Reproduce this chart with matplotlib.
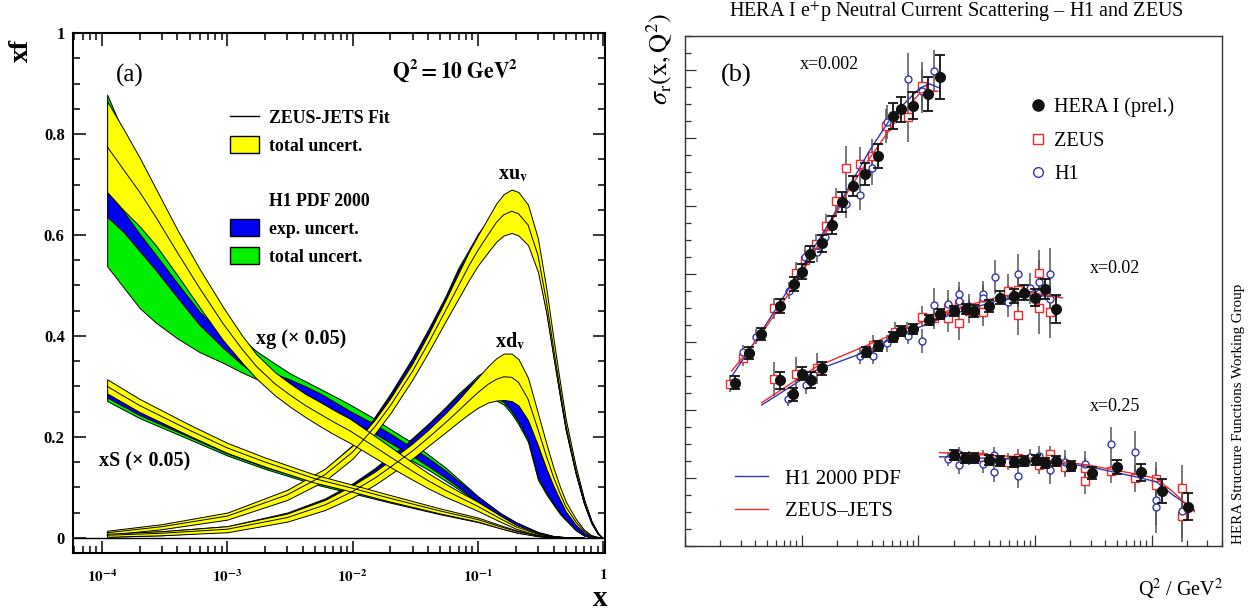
import numpy as np
import matplotlib
matplotlib.use("Agg")
import matplotlib.pyplot as plt
from matplotlib.lines import Line2D
from matplotlib.patches import Patch
from matplotlib.ticker import LogLocator, MultipleLocator, NullFormatter, FixedLocator, FixedFormatter

plt.rcParams["font.family"] = ["Liberation Serif", "DejaVu Serif"]
plt.rcParams["mathtext.fontset"] = "stix"

# ---------------- panel (a): parton densities at Q2 = 10 GeV2 ----------------
xv = [1.1e-4, 3e-4, 1e-3, 3e-3, 6e-3, 1e-2, 1.5e-2, 2e-2, 3e-2, 4e-2, 5.5e-2, 7e-2, 0.085, 0.1, 0.12,
      0.14, 0.16, 0.185, 0.21, 0.25, 0.3, 0.35, 0.4, 0.45, 0.5, 0.6, 0.7, 0.8, 0.9, 0.97]

zeus_uv = [0.010, 0.022, 0.043, 0.085, 0.125, 0.170, 0.220, 0.262, 0.330, 0.385, 0.450, 0.500, 0.540, 0.570, 0.600,
           0.625, 0.640, 0.647, 0.642, 0.620, 0.560, 0.470, 0.375, 0.295, 0.225, 0.135, 0.072, 0.032, 0.009, 0.001]
zeus_uv_err = [0.004, 0.005, 0.007, 0.010, 0.012, 0.013, 0.014, 0.015, 0.016, 0.018, 0.021, 0.025, 0.028, 0.030, 0.034,
               0.038, 0.041, 0.043, 0.043, 0.040, 0.033, 0.024, 0.018, 0.013, 0.010, 0.007, 0.004, 0.002, 0.001, 0.0]
h1_uv = [0.010, 0.022, 0.043, 0.087, 0.128, 0.175, 0.230, 0.275, 0.345, 0.400, 0.465, 0.520, 0.555, 0.585, 0.610,
         0.627, 0.636, 0.640, 0.635, 0.610, 0.550, 0.462, 0.370, 0.290, 0.222, 0.133, 0.071, 0.031, 0.009, 0.001]
h1_uv_exp = [0.002, 0.003, 0.004, 0.005, 0.006, 0.007, 0.008, 0.008, 0.009, 0.010, 0.011, 0.012, 0.012, 0.013, 0.014,
             0.015, 0.016, 0.016, 0.016, 0.015, 0.013, 0.011, 0.010, 0.008, 0.007, 0.005, 0.003, 0.002, 0.001, 0.0]
h1_uv_tot = [0.003, 0.004, 0.005, 0.007, 0.008, 0.009, 0.010, 0.011, 0.012, 0.013, 0.014, 0.016, 0.017, 0.018, 0.019,
             0.020, 0.020, 0.020, 0.020, 0.019, 0.017, 0.015, 0.013, 0.011, 0.009, 0.006, 0.004, 0.002, 0.001, 0.0]

zeus_dv = [0.005, 0.009, 0.017, 0.040, 0.065, 0.092, 0.118, 0.140, 0.172, 0.198, 0.228, 0.252, 0.272, 0.288, 0.304,
           0.314, 0.319, 0.318, 0.308, 0.275, 0.215, 0.162, 0.120, 0.088, 0.062, 0.032, 0.013, 0.004, 0.001, 0.0]
zeus_dv_err = [0.003, 0.004, 0.006, 0.008, 0.010, 0.012, 0.013, 0.014, 0.015, 0.016, 0.019, 0.022, 0.026, 0.030, 0.036,
               0.042, 0.046, 0.047, 0.046, 0.042, 0.032, 0.025, 0.018, 0.013, 0.010, 0.006, 0.003, 0.0012, 0.0005, 0.0]
h1_dv = [0.005, 0.009, 0.018, 0.043, 0.070, 0.099, 0.128, 0.152, 0.185, 0.212, 0.243, 0.268, 0.285, 0.298, 0.305,
         0.305, 0.300, 0.285, 0.265, 0.230, 0.150, 0.115, 0.088, 0.065, 0.048, 0.022, 0.008, 0.002, 0.0003, 0.0]
h1_dv_exp = [0.002, 0.003, 0.004, 0.005, 0.006, 0.007, 0.008, 0.009, 0.011, 0.012, 0.014, 0.015, 0.017, 0.020, 0.024,
             0.028, 0.031, 0.034, 0.035, 0.035, 0.030, 0.025, 0.020, 0.015, 0.011, 0.006, 0.003, 0.001, 0.0003, 0.0]
h1_dv_tot = [0.003, 0.004, 0.005, 0.007, 0.008, 0.009, 0.010, 0.011, 0.013, 0.014, 0.016, 0.018, 0.020, 0.024, 0.028,
             0.033, 0.036, 0.039, 0.040, 0.040, 0.035, 0.029, 0.023, 0.018, 0.013, 0.007, 0.004, 0.0015, 0.0004, 0.0]

xg_x = [1.1e-4, 1.5e-4, 2e-4, 2.7e-4, 4e-4, 6e-4, 9.2e-4, 1.3e-3, 1.7e-3, 2.4e-3, 3.2e-3, 4.2e-3, 5.5e-3, 7.2e-3,
        9.5e-3, 1.4e-2, 2e-2, 3e-2, 4e-2, 5.5e-2, 7e-2, 0.1, 0.15, 0.2, 0.3, 0.4, 0.5, 0.7]
zeus_g = [0.775, 0.728, 0.685, 0.635, 0.565, 0.495, 0.425, 0.375, 0.340, 0.305, 0.282, 0.262, 0.245, 0.228,
          0.212, 0.185, 0.160, 0.132, 0.113, 0.094, 0.081, 0.062, 0.038, 0.022, 0.007, 0.002, 0.0005, 0.0]
zeus_g_err = [0.090, 0.080, 0.068, 0.056, 0.045, 0.038, 0.033, 0.027, 0.024, 0.023, 0.023, 0.023, 0.024, 0.024,
              0.024, 0.022, 0.020, 0.017, 0.015, 0.013, 0.011, 0.009, 0.006, 0.004, 0.002, 0.001, 0.0003, 0.0]
h1_g = [0.661, 0.625, 0.585, 0.545, 0.490, 0.435, 0.390, 0.355, 0.332, 0.315, 0.303, 0.290, 0.276, 0.260,
        0.242, 0.220, 0.197, 0.170, 0.150, 0.126, 0.106, 0.076, 0.045, 0.028, 0.010, 0.003, 0.001, 0.0]
h1_g_exp = [0.025, 0.020, 0.017, 0.015, 0.014, 0.013, 0.013, 0.011, 0.010, 0.010, 0.010, 0.010, 0.010, 0.009,
            0.009, 0.009, 0.009, 0.008, 0.008, 0.007, 0.006, 0.005, 0.004, 0.003, 0.0015, 0.0005, 0.0002, 0.0]
h1_g_tot_lo = [0.538, 0.495, 0.455, 0.426, 0.395, 0.368, 0.347, 0.328, 0.315, 0.300, 0.288, 0.275, 0.260, 0.242,
               0.221, 0.200, 0.178, 0.152, 0.135, 0.113, 0.096, 0.070, 0.041, 0.025, 0.009, 0.0027, 0.0008, 0.0]
h1_g_tot_hi = [0.878, 0.800, 0.720, 0.640, 0.570, 0.500, 0.440, 0.395, 0.370, 0.345, 0.325, 0.310, 0.295, 0.280,
               0.264, 0.240, 0.215, 0.188, 0.165, 0.139, 0.116, 0.082, 0.049, 0.031, 0.011, 0.0033, 0.0012, 0.0]

xs_x = [1.1e-4, 2e-4, 5e-4, 1e-3, 2e-3, 5e-3, 1e-2, 2e-2, 5e-2, 0.1, 0.15, 0.2, 0.3, 0.4, 0.5]
zeus_s = [0.300, 0.262, 0.213, 0.178, 0.150, 0.117, 0.098, 0.078, 0.053, 0.036, 0.022, 0.013, 0.004, 0.001, 0.0]
zeus_s_err = [0.014, 0.013, 0.011, 0.010, 0.009, 0.008, 0.007, 0.0065, 0.005, 0.004, 0.003, 0.002, 0.001, 0.0004, 0.0]
h1_s = [0.282, 0.247, 0.203, 0.170, 0.143, 0.112, 0.093, 0.074, 0.050, 0.034, 0.021, 0.012, 0.004, 0.001, 0.0]
h1_s_exp = [0.004, 0.004, 0.003, 0.003, 0.003, 0.002, 0.002, 0.002, 0.0015, 0.001, 0.0008, 0.0005, 0.0002, 0.0001, 0.0]
h1_s_tot = [0.011, 0.010, 0.008, 0.007, 0.0065, 0.006, 0.005, 0.0045, 0.0035, 0.003, 0.002, 0.0015, 0.0005, 0.0002, 0.0]

x_ticks = [1e-4, 1e-3, 1e-2, 1e-1, 1]
x_tick_labels = [r"$\mathbf{10^{-4}}$", r"$\mathbf{10^{-3}}$", r"$\mathbf{10^{-2}}$", r"$\mathbf{10^{-1}}$", r"$\mathbf{1}$"]

# ---------------- panel (b): reduced cross sections ----------------
hera_q_002 = [2.68, 3.53, 4.50, 6.50, 8.57, 10.0, 11.9, 15.0, 18.2, 22.2, 27.3, 35.0, 45.5, 60.4, 70.3, 90.1, 122, 152]
hera_s_002 = [0.961, 1.137, 1.247, 1.412, 1.541, 1.614, 1.718, 1.782, 1.888, 2.025, 2.118, 2.188, 2.296, 2.529, 2.569, 2.590, 2.657, 2.761]
hera_e_002 = [0.04, 0.035, 0.035, 0.04, 0.04, 0.045, 0.045, 0.05, 0.055, 0.06, 0.06, 0.065, 0.07, 0.075, 0.075, 0.08, 0.10, 0.13]
zeus_q_002 = [2.43, 3.12, 5.82, 8.97, 10.7, 13.3, 16.1, 19.7, 24.0, 31.5, 40.1, 53.3, 81.6, 108]
zeus_s_002 = [0.953, 1.108, 1.398, 1.608, 1.681, 1.775, 1.882, 2.028, 2.222, 2.247, 2.296, 2.471, 2.525, 2.706]
zeus_e_002 = [0.05, 0.05, 0.06, 0.06, 0.06, 0.06, 0.07, 0.08, 0.13, 0.10, 0.10, 0.10, 0.15, 0.14]
h1_q_002 = [3.12, 4.05, 7.72, 10.7, 13.4, 15.9, 23.9, 31.5, 40.4, 54.0, 81.2, 108, 135]
h1_s_002 = [1.143, 1.231, 1.500, 1.702, 1.731, 1.819, 2.010, 2.065, 2.222, 2.496, 2.747, 2.676, 2.796]
h1_e_002 = [0.04, 0.045, 0.05, 0.06, 0.06, 0.06, 0.08, 0.09, 0.10, 0.10, 0.15, 0.13, 0.12]
h1fit_q_002 = [2.56, 4.39, 7.93, 11.8, 17.4, 25.9, 38.4, 60.4, 103, 125, 152]
h1fit_s_002 = [1.006, 1.247, 1.524, 1.718, 1.906, 2.124, 2.329, 2.535, 2.694, 2.718, 2.694]
zjfit_q_002 = [2.51, 4.39, 7.93, 11.8, 17.4, 25.9, 38.4, 60.4, 103, 147]
zjfit_s_002 = [1.029, 1.235, 1.494, 1.688, 1.888, 2.106, 2.282, 2.476, 2.665, 2.676]

hera_q_02 = [6.50, 8.46, 10.0, 12.0, 15.0, 35.5, 45.2, 60.7, 70.7, 90.1, 123, 152, 201, 255, 300, 401, 505, 660, 798, 1006, 1209, 1510]
hera_s_02 = [0.976, 0.892, 1.014, 0.976, 1.045, 1.141, 1.176, 1.228, 1.263, 1.275, 1.329, 1.365, 1.382, 1.392, 1.384, 1.412, 1.461, 1.471, 1.490, 1.461, 1.512, 1.394]
hera_e_02 = [0.05, 0.04, 0.04, 0.045, 0.04, 0.03, 0.03, 0.03, 0.03, 0.03, 0.03, 0.03, 0.03, 0.03, 0.035, 0.035, 0.04, 0.04, 0.045, 0.05, 0.06, 0.08]
zeus_q_02 = [5.82, 8.97, 13.5, 40.5, 63.2, 79.6, 108, 135, 180, 180, 223, 223, 272, 358, 358, 586, 719, 719, 1080, 1080, 1352]
zeus_s_02 = [0.981, 1.012, 1.045, 1.184, 1.259, 1.265, 1.349, 1.339, 1.398, 1.339, 1.422, 1.310, 1.384, 1.422, 1.376, 1.502, 1.359, 1.506, 1.604, 1.398, 1.376]
zeus_e_02 = [0.10, 0.10, 0.09, 0.06, 0.06, 0.05, 0.06, 0.06, 0.06, 0.08, 0.07, 0.10, 0.07, 0.08, 0.08, 0.10, 0.12, 0.10, 0.14, 0.15, 0.15]
h1_q_02 = [7.57, 10.8, 31.5, 40.5, 53.6, 81.2, 108, 135, 181, 225, 225, 272, 358, 358, 451, 586, 719, 899, 1080, 1080, 1352, 1352]
h1_s_02 = [0.863, 0.945, 1.118, 1.118, 1.192, 1.237, 1.208, 1.418, 1.424, 1.481, 1.441, 1.412, 1.481, 1.457, 1.584, 1.437, 1.598, 1.516, 1.551, 1.490, 1.600, 1.453]
h1_e_02 = [0.04, 0.05, 0.05, 0.05, 0.05, 0.05, 0.07, 0.10, 0.08, 0.07, 0.08, 0.07, 0.08, 0.08, 0.10, 0.09, 0.12, 0.09, 0.13, 0.10, 0.15, 0.15]
h1fit_q_02 = [4.54, 13.4, 31.5, 69.3, 186, 498, 954, 1625]
h1fit_s_02 = [0.829, 1.035, 1.129, 1.241, 1.359, 1.447, 1.476, 1.465]
zjfit_q_02 = [4.54, 13.4, 31.5, 69.3, 186, 498, 954, 1722]
zjfit_s_02 = [0.843, 1.055, 1.163, 1.261, 1.388, 1.466, 1.490, 1.459]

hera_q_25 = [201, 253, 300, 403, 505, 660, 810, 1018, 1217, 1510, 2018, 3053, 5028, 8070, 12200, 20400]
hera_s_25 = [0.535, 0.519, 0.519, 0.506, 0.500, 0.492, 0.502, 0.506, 0.486, 0.500, 0.469, 0.431, 0.466, 0.434, 0.322, 0.231]
hera_e_25 = [0.03, 0.03, 0.03, 0.03, 0.03, 0.03, 0.03, 0.03, 0.03, 0.03, 0.03, 0.035, 0.04, 0.05, 0.07, 0.08]
zeus_q_25 = [358, 586, 719, 1073, 1342, 1342, 1816, 2697, 2697, 4500, 7220, 10900, 10900, 18100, 18100]
zeus_s_25 = [0.525, 0.496, 0.518, 0.476, 0.539, 0.512, 0.467, 0.384, 0.457, 0.441, 0.398, 0.394, 0.359, 0.339, 0.176]
zeus_e_25 = [0.04, 0.05, 0.05, 0.05, 0.05, 0.05, 0.06, 0.08, 0.06, 0.07, 0.08, 0.10, 0.10, 0.14, 0.15]
h1_q_25 = [180, 223, 223, 272, 358, 448, 448, 719, 899, 1080, 1342, 1816, 2697, 4500, 7220, 10800, 10800, 18100]
h1_s_25 = [0.512, 0.540, 0.475, 0.516, 0.480, 0.535, 0.437, 0.413, 0.521, 0.531, 0.447, 0.493, 0.481, 0.600, 0.555, 0.271, 0.228, 0.208]
h1_e_25 = [0.04, 0.04, 0.05, 0.04, 0.05, 0.05, 0.06, 0.07, 0.05, 0.06, 0.08, 0.07, 0.08, 0.10, 0.12, 0.15, 0.15, 0.16]
h1fit_q_25 = [152, 738, 2750, 7370, 10900, 15200, 23200]
h1fit_s_25 = [0.525, 0.510, 0.470, 0.406, 0.378, 0.300, 0.212]
zjfit_q_25 = [152, 738, 2750, 7370, 10900, 15200, 23200]
zjfit_s_25 = [0.549, 0.525, 0.478, 0.423, 0.398, 0.319, 0.202]

YELLOW, BLUE, GREEN = "#ffff00", "#0000f0", "#00ee00"
RED, NAVY = "#ee2a2a", "#3535aa"


def band(ax, x, lo, hi, color, z):
    ax.fill_between(x, lo, hi, facecolor=color, edgecolor="black", linewidth=0.7, zorder=z)


def sym(mid, err):
    mid, err = np.asarray(mid), np.asarray(err)
    return mid - err, mid + err


fig = plt.figure(figsize=(12.58, 6.13), dpi=100)

# ---- left panel ----
ax = fig.add_axes([0.058, 0.098, 0.423, 0.848])
ax.set_xscale("log")
h1_bands = [
    (xv, sym(h1_uv, h1_uv_tot), sym(h1_uv, h1_uv_exp)),
    (xv, sym(h1_dv, h1_dv_tot), sym(h1_dv, h1_dv_exp)),
    (xg_x, (h1_g_tot_lo, h1_g_tot_hi), sym(h1_g, h1_g_exp)),
    (xs_x, sym(h1_s, h1_s_tot), sym(h1_s, h1_s_exp)),
]
for x, tot, exp in h1_bands:
    band(ax, x, tot[0], tot[1], GREEN, 2)
    band(ax, x, exp[0], exp[1], BLUE, 3)
zeus_bands = [(xv, zeus_uv, zeus_uv_err), (xv, zeus_dv, zeus_dv_err),
              (xg_x, zeus_g, zeus_g_err), (xs_x, zeus_s, zeus_s_err)]
for x, zc, ze in zeus_bands:
    lo, hi = sym(zc, ze)
    band(ax, x, lo, hi, YELLOW, 4)
    ax.plot(x, zc, color="black", lw=0.7, zorder=5)

ax.axhline(0, color="black", lw=1.0, zorder=6)
ax.set_xlim(5.87e-5, 1.03)
ax.set_ylim(-0.03, 1.0)
ax.xaxis.set_major_locator(FixedLocator(x_ticks))
ax.xaxis.set_major_formatter(FixedFormatter(x_tick_labels))
ax.xaxis.set_minor_locator(LogLocator(base=10, subs=np.arange(2, 10), numticks=20))
ax.xaxis.set_minor_formatter(NullFormatter())
ax.yaxis.set_major_locator(FixedLocator([0, 0.2, 0.4, 0.6, 0.8, 1.0]))
ax.yaxis.set_major_formatter(FixedFormatter(["0", "0.2", "0.4", "0.6", "0.8", "1"]))
ax.yaxis.set_minor_locator(MultipleLocator(0.05))
ax.tick_params(which="both", direction="in", top=True, right=True, width=1.1)
ax.tick_params(which="major", length=9)
ax.tick_params(which="minor", length=5)
ax.tick_params(axis="x", pad=11, labelsize=11)
ax.tick_params(axis="y", pad=6, labelsize=12)
for lab in ax.get_yticklabels():
    lab.set_fontweight("bold")
for sp in ax.spines.values():
    sp.set_linewidth(1.5)

ax.text(-0.096, 0.967, "xf", transform=ax.transAxes, rotation=90, ha="center", va="center",
        fontsize=20, fontweight="bold")
ax.text(0.99, -0.087, "x", transform=ax.transAxes, ha="center", va="center",
        fontsize=21, fontweight="bold")
ax.text(0.107, 0.919, "(a)", transform=ax.transAxes, ha="center", va="center", fontsize=18)
ax.text(0.718, 0.929, r"$\mathbf{Q^2 = 10\ GeV^2}$", transform=ax.transAxes, ha="center",
        va="center", fontsize=15.5)
ax.text(0.19, 0.72, r"xu$_\mathbf{v}$", ha="center", va="center", fontsize=14.5, fontweight="bold")
ax.text(0.18, 0.39, r"xd$_\mathbf{v}$", ha="center", va="center", fontsize=14.5, fontweight="bold")
ax.text(3.9e-3, 0.393, "xg (\u00d7 0.05)", ha="center", va="center", fontsize=14.5, fontweight="bold")
ax.text(2.2e-4, 0.151, "xS (\u00d7 0.05)", ha="center", va="center", fontsize=14.5, fontweight="bold")

handles = [Line2D([], [], color="black", lw=1),
           Patch(facecolor=YELLOW, edgecolor="black"),
           Patch(facecolor="none", edgecolor="none"),
           Patch(facecolor="none", edgecolor="none"),
           Patch(facecolor=BLUE, edgecolor="black"),
           Patch(facecolor=GREEN, edgecolor="black")]
labels = ["ZEUS-JETS Fit", "total uncert.", " ", "H1 PDF 2000", "exp. uncert.", "total uncert."]
ax.legend(handles, labels, loc="upper left", bbox_to_anchor=(0.296, 0.855), frameon=False,
          borderpad=0, borderaxespad=0, handlelength=1.6, handleheight=1.08,
          handletextpad=0.56, labelspacing=0.52,
          prop={"family": "Liberation Serif", "weight": "bold", "size": 12.8})

# ---- right panel ----
bx = fig.add_axes([0.5445, 0.1093, 0.4269, 0.832])
bx.set_xscale("log")
bins = [
    (hera_q_002, hera_s_002, hera_e_002, zeus_q_002, zeus_s_002, zeus_e_002, h1_q_002, h1_s_002, h1_e_002,
     h1fit_q_002, h1fit_s_002, zjfit_q_002, zjfit_s_002),
    (hera_q_02, hera_s_02, hera_e_02, zeus_q_02, zeus_s_02, zeus_e_02, h1_q_02, h1_s_02, h1_e_02,
     h1fit_q_02, h1fit_s_02, zjfit_q_02, zjfit_s_02),
    (hera_q_25, hera_s_25, hera_e_25, zeus_q_25, zeus_s_25, zeus_e_25, h1_q_25, h1_s_25, h1_e_25,
     h1fit_q_25, h1fit_s_25, zjfit_q_25, zjfit_s_25),
]
for (hq, hs, he, zq, zs, ze, oq, os_, oe, fq, fs, jq, js) in bins:
    bx.errorbar(zq, zs, yerr=ze, fmt="s", ms=5.5, mfc="white", mec=RED, mew=1.0,
                ecolor="#555555", elinewidth=1.1, capsize=0, zorder=3)
    bx.errorbar(oq, os_, yerr=oe, fmt="o", ms=5, mfc="white", mec=NAVY, mew=1.0,
                ecolor="#555555", elinewidth=1.1, capsize=0, zorder=3)
    bx.plot(fq, fs, color=NAVY, lw=1.0, zorder=4)
    bx.plot(jq, js, color=RED, lw=1.0, zorder=4)
    bx.errorbar(hq, hs, yerr=he, fmt="o", ms=7, color="#111111", elinewidth=1.3,
                capsize=3.5, capthick=1.3, zorder=5)

bx.set_xlim(1, 4e4)
bx.set_ylim(0, 3.0)
bx.xaxis.set_major_locator(LogLocator(base=10, numticks=10))
bx.xaxis.set_minor_locator(LogLocator(base=10, subs=np.arange(2, 10), numticks=20))
bx.xaxis.set_major_formatter(NullFormatter())
bx.xaxis.set_minor_formatter(NullFormatter())
bx.yaxis.set_major_locator(MultipleLocator(0.4))
bx.yaxis.set_minor_locator(MultipleLocator(0.1))
bx.yaxis.set_major_formatter(NullFormatter())
bx.tick_params(which="both", direction="in", top=False, right=False, width=0.9, color="#333333")
bx.tick_params(which="major", length=8)
bx.tick_params(which="minor", length=4.5)
for sp in bx.spines.values():
    sp.set_linewidth(1.0)
    sp.set_color("#333333")

bx.text(0.505, 1.047, "HERA I e$^{+}$p Neutral Current Scattering \u2013 H1 and ZEUS",
        transform=bx.transAxes, ha="center", va="center", fontsize=14.5)
bx.text(0.095, 0.922, "(b)", transform=bx.transAxes, ha="center", va="center", fontsize=19)
bx.text(17.4, 2.83, "x=0.002", ha="center", va="center", fontsize=13)
bx.text(4800, 1.63, "x=0.02", ha="center", va="center", fontsize=13)
bx.text(4800, 0.82, "x=0.25", ha="center", va="center", fontsize=13)
bx.text(-0.047, 0.955, r"$\sigma_{\mathrm{r}}(\mathrm{x,Q^2})$", transform=bx.transAxes,
        rotation=90, ha="center", va="center", fontsize=19)
bx.text(0.924, -0.086, r"Q$^2$ / GeV$^2$", transform=bx.transAxes, ha="center", va="center", fontsize=14.5)
bx.text(1.03, 0.26, "HERA Structure Functions Working Group", transform=bx.transAxes,
        rotation=90, ha="center", va="center", fontsize=10.8)

mk = [Line2D([], [], ls="none", marker="o", ms=8, color="#111111"),
      Line2D([], [], ls="none", marker="s", ms=7, mfc="white", mec=RED),
      Line2D([], [], ls="none", marker="o", ms=7, mfc="white", mec=NAVY)]
leg1 = bx.legend(mk, ["HERA I (prel.)", "ZEUS", "H1"], loc="upper left", bbox_to_anchor=(0.641, 0.879),
                 frameon=False, borderpad=0, borderaxespad=0, handlelength=0.9, handletextpad=0.35,
                 labelspacing=0.7, fontsize=14.5)
bx.add_artist(leg1)
ln = [Line2D([], [], color=NAVY, lw=1.0), Line2D([], [], color=RED, lw=1.0)]
bx.legend(ln, ["H1 2000 PDF", "ZEUS\u2013JETS"], loc="upper left", bbox_to_anchor=(0.093, 0.151),
          frameon=False, borderpad=0, borderaxespad=0, handlelength=1.6, handletextpad=0.8,
          labelspacing=0.63, fontsize=15)

fig.savefig("out.png", dpi=100)
